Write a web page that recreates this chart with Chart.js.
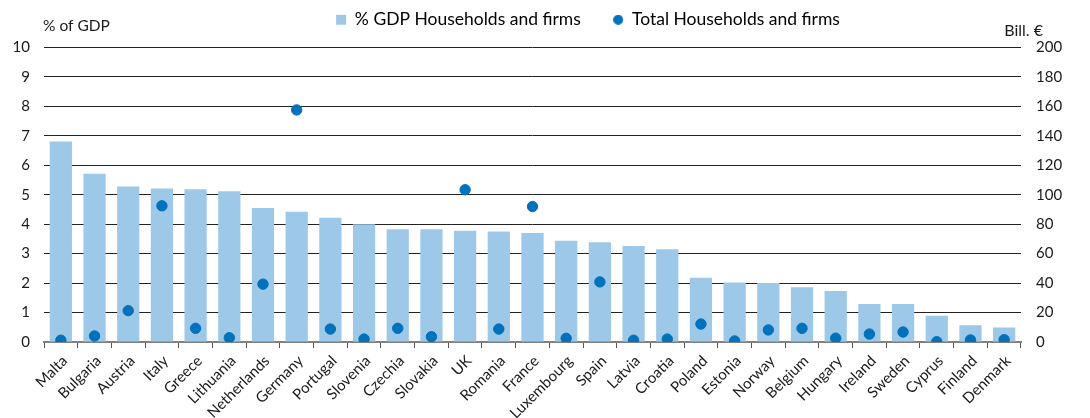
<!DOCTYPE html>
<html>
<head>
<meta charset="utf-8">
<script src="https://cdn.jsdelivr.net/npm/chart.js@4.4.1/dist/chart.umd.min.js"></script>
<style>
  html, body { margin: 0; padding: 0; background: #fff; }
  #wrap { width: 1090px; height: 418px; }
</style>
</head>
<body>
<div id="wrap"><canvas id="plot" width="1090" height="418"></canvas></div>
<script>
const countries = ["Malta", "Bulgaria", "Austria", "Italy", "Greece", "Lithuania", "Netherlands", "Germany",
    "Portugal", "Slovenia", "Czechia", "Slovakia", "UK", "Romania", "France", "Luxembourg", "Spain", "Latvia",
    "Croatia", "Poland", "Estonia", "Norway", "Belgium", "Hungary", "Ireland", "Sweden", "Cyprus", "Finland", "Denmark"];

// % of GDP (left axis)
const pctGdp = [6.81, 5.71, 5.28, 5.21, 5.19, 5.12, 4.55, 4.42, 4.22, 4.00, 3.83, 3.83, 3.78, 3.75, 3.70,
    3.44, 3.39, 3.26, 3.15, 2.18, 2.02, 2.00, 1.86, 1.73, 1.29, 1.29, 0.89, 0.57, 0.49];

// bill. EUR (right axis)
const totalBn = [1.2, 4.1, 21.3, 92.5, 9.3, 2.9, 39.3, 157.6, 8.8, 2.0, 9.3, 3.6, 103.4, 8.8, 92.0,
    2.5, 40.8, 1.2, 2.0, 12.2, 0.7, 8.2, 9.3, 2.6, 5.4, 6.8, 0.2, 1.4, 1.6];

const leftTicks = [0, 1, 2, 3, 4, 5, 6, 7, 8, 9, 10];
const rightTicks = [0, 20, 40, 60, 80, 100, 120, 140, 160, 180, 200];

const FONT = "Lato, 'Open Sans', sans-serif";
const barColor = "#9dc8e8";
const dotColor = "#0072bc";

// small dot for the legend (the default legend circle is too big)
const legendDot = document.createElement("canvas");
legendDot.width = 10;
legendDot.height = 10;
{
    const d = legendDot.getContext("2d");
    d.fillStyle = dotColor;
    d.beginPath();
    d.arc(5, 5, 5, 0, Math.PI * 2);
    d.fill();
}

// unit captions above the two y axes
const unitLabels = {
    id: "unitLabels",
    afterDraw(chart) {
        const c = chart.ctx;
        c.save();
        c.fillStyle = "#1a1a1a";
        c.textBaseline = "middle";
        c.textAlign = "left";
        c.font = "15.5px " + FONT;
        c.fillText("% of GDP", 43, 26);
        c.textAlign = "right";
        c.font = "16px " + FONT;
        c.fillText("Bill. €", 1043, 31);
        c.restore();
    }
};

// more room under the legend, and nudge it right like the original
const legendSpace = {
    id: "legendSpace",
    afterInit(chart) {
        const lg = chart.legend;
        const fit = lg.fit;
        lg.fit = function () {
            fit.call(this);
            this.height += 9;
        };
    },
    afterLayout(chart) {
        chart.legend.left += 48;
        chart.legend.right += 48;
    }
};

const ctx = document.getElementById("plot").getContext("2d");
new Chart(ctx, {
    data: {
        labels: countries,
        datasets: [
            {
                type: "scatter",
                label: "Total Households and firms",
                data: totalBn,
                yAxisID: "yR",
                backgroundColor: dotColor,
                borderColor: dotColor,
                pointRadius: 5.2,
                pointStyle: "circle",
                showLine: false,
                order: 0
            },
            {
                type: "bar",
                label: "% GDP Households and firms",
                data: pctGdp,
                yAxisID: "yL",
                backgroundColor: barColor,
                borderWidth: 0,
                categoryPercentage: 1,
                barPercentage: 0.66,
                order: 1
            }
        ]
    },
    options: {
        responsive: false,
        animation: false,
        layout: { padding: { top: 1, right: 10, left: 0, bottom: 0 } },
        plugins: {
            tooltip: { enabled: false },
            legend: {
                reverse: true,
                labels: {
                    color: "#1a1a1a",
                    font: { family: FONT, size: 17.5 },
                    usePointStyle: true,
                    boxWidth: 10,
                    boxHeight: 10,
                    padding: 10,
                    generateLabels(chart) {
                        return chart.data.datasets.map((ds, i) => ({
                            text: ds.label + (i === 1 ? "     " : ""),
                            fillStyle: ds.backgroundColor,
                            strokeStyle: ds.backgroundColor,
                            lineWidth: 0,
                            pointStyle: ds.type === "bar" ? "rect" : legendDot,
                            datasetIndex: i
                        }));
                    }
                }
            }
        },
        scales: {
            x: {
                type: "category",
                offset: true,
                afterFit(scale) { scale.height = 76; },
                border: { display: true, color: "#808080", width: 2 },
                grid: {
                    offset: true,
                    drawOnChartArea: false,
                    drawTicks: true,
                    tickLength: 6,
                    color: "#555"
                },
                ticks: {
                    color: "#1a1a1a",
                    font: { family: FONT, size: 15 },
                    minRotation: 45,
                    maxRotation: 45,
                    autoSkip: false,
                    padding: 4,
                    labelOffset: 4
                }
            },
            yL: {
                type: "linear",
                position: "left",
                min: 0,
                max: 10,
                afterFit(scale) { scale.width = 44; },
                afterBuildTicks(scale) { scale.ticks = leftTicks.map(v => ({ value: v })); },
                border: { display: false },
                grid: { color: "#222", lineWidth: 1, drawTicks: false },
                ticks: {
                    color: "#1a1a1a",
                    font: { family: FONT, size: 15 },
                    padding: 14
                }
            },
            yR: {
                type: "linear",
                position: "right",
                min: 0,
                max: 200,
                afterFit(scale) { scale.width = 59; },
                afterBuildTicks(scale) { scale.ticks = rightTicks.map(v => ({ value: v })); },
                border: { display: false },
                grid: { drawOnChartArea: false, drawTicks: false },
                ticks: {
                    color: "#1a1a1a",
                    font: { family: FONT, size: 15 },
                    padding: 15
                }
            }
        }
    },
    plugins: [unitLabels, legendSpace]
});
</script>
</body>
</html>
